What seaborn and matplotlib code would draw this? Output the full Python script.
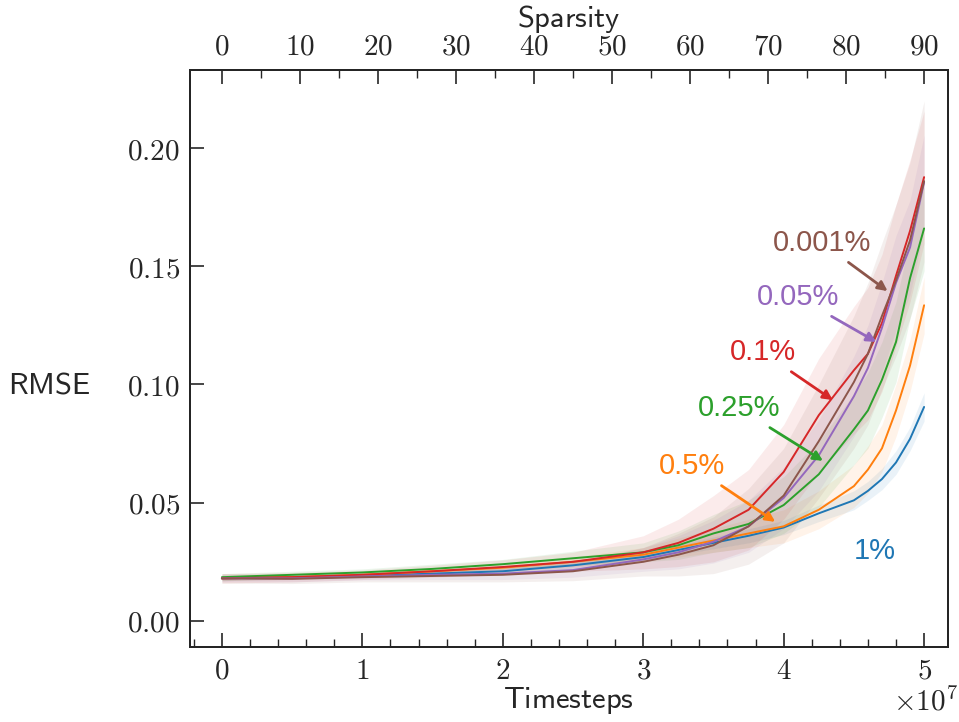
import numpy as np
import pandas as pd
import matplotlib
matplotlib.use("Agg")
import matplotlib.pyplot as plt
import seaborn as sns
from matplotlib.ticker import FuncFormatter, MultipleLocator

# ---------------- data ----------------
t_steps = [0.0, 0.5, 1.0, 1.5, 2.0, 2.5, 3.0, 3.25, 3.5, 3.75, 4.0, 4.25,
           4.5, 4.6, 4.7, 4.8, 4.9, 5.0]  # x 1e7 timesteps

labels = ["1%", "0.5%", "0.25%", "0.1%", "0.05%", "0.001%"]

rmse_1 = [0.0180, 0.0185, 0.0190, 0.0200, 0.0210, 0.0235, 0.0270, 0.0300, 0.0330,
          0.0360, 0.0395, 0.0455, 0.0510, 0.0550, 0.0600, 0.0670, 0.0770, 0.0905]
rmse_05 = [0.0180, 0.0185, 0.0195, 0.0210, 0.0225, 0.0250, 0.0280, 0.0310, 0.0340,
           0.0370, 0.0400, 0.0470, 0.0570, 0.0640, 0.0730, 0.0890, 0.1080, 0.1335]
rmse_025 = [0.0185, 0.0195, 0.0205, 0.0220, 0.0240, 0.0265, 0.0290, 0.0320, 0.0370,
            0.0410, 0.0490, 0.0620, 0.0810, 0.0890, 0.1020, 0.1180, 0.1450, 0.1660]
rmse_01 = [0.0180, 0.0185, 0.0195, 0.0210, 0.0228, 0.0250, 0.0290, 0.0330, 0.0390,
           0.0470, 0.0630, 0.0870, 0.1060, 0.1130, 0.1260, 0.1460, 0.1650, 0.1877]
rmse_005 = [0.0180, 0.0180, 0.0188, 0.0195, 0.0200, 0.0215, 0.0260, 0.0290, 0.0335,
            0.0400, 0.0520, 0.0700, 0.0950, 0.1070, 0.1240, 0.1430, 0.1580, 0.1855]
rmse_0001 = [0.0180, 0.0178, 0.0185, 0.0190, 0.0195, 0.0210, 0.0250, 0.0280, 0.0320,
             0.0400, 0.0530, 0.0760, 0.1010, 0.1130, 0.1290, 0.1440, 0.1610, 0.1860]

# half-width of the shaded spread
spread_1 = [0.001, 0.001, 0.001, 0.001, 0.0012, 0.0015, 0.002, 0.002, 0.0025, 0.003,
            0.003, 0.0035, 0.004, 0.004, 0.0045, 0.005, 0.005, 0.006]
spread_05 = [0.001, 0.001, 0.001, 0.0012, 0.0015, 0.002, 0.003, 0.004, 0.005, 0.006,
             0.007, 0.008, 0.009, 0.010, 0.010, 0.011, 0.011, 0.012]
spread_025 = [0.0015, 0.0015, 0.0015, 0.002, 0.002, 0.003, 0.004, 0.006, 0.008, 0.010,
              0.012, 0.014, 0.015, 0.016, 0.016, 0.017, 0.017, 0.018]
spread_01 = [0.002, 0.002, 0.002, 0.0025, 0.003, 0.004, 0.007, 0.010, 0.014, 0.017,
             0.020, 0.024, 0.027, 0.028, 0.029, 0.030, 0.030, 0.028]
spread_005 = [0.0015, 0.0015, 0.0015, 0.002, 0.0025, 0.003, 0.005, 0.007, 0.009, 0.011,
              0.013, 0.015, 0.017, 0.018, 0.019, 0.020, 0.020, 0.020]
spread_0001 = [0.002, 0.002, 0.002, 0.0025, 0.003, 0.004, 0.006, 0.009, 0.012, 0.016,
               0.020, 0.024, 0.028, 0.030, 0.031, 0.032, 0.033, 0.034]

colors = ["#1f77b4", "#ff7f0e", "#2ca02c", "#d62728", "#9467bd", "#8c564b"]

series = [rmse_1, rmse_05, rmse_025, rmse_01, rmse_005, rmse_0001]
spreads = [spread_1, spread_05, spread_025, spread_01, spread_005, spread_0001]

sparsity_ticks = [0, 10, 20, 30, 40, 50, 60, 70, 80, 90]
x_ticks = [0, 1, 2, 3, 4, 5]
y_ticks = [0.00, 0.05, 0.10, 0.15, 0.20]

# ---------------- build frame ----------------
rows = []
for lab, ys in zip(labels, series):
    for t, y in zip(t_steps, ys):
        rows.append({"Timesteps": t * 1e7, "RMSE": y, "run": lab})
df = pd.DataFrame(rows)

sns.set_style("ticks")
plt.rcParams["mathtext.fontset"] = "cm"
plt.rcParams["font.family"] = ["DejaVu Sans"]

fig = plt.figure(figsize=(9.59, 7.22), dpi=100)
ax = fig.add_axes([0.198, 0.104, 0.7905, 0.799])

for lab, ys, sp, c in zip(labels, series, spreads, colors):
    t = np.array(t_steps) * 1e7
    ys_a = np.array(ys)
    sp_a = np.array(sp)
    ax.fill_between(t, ys_a - sp_a, ys_a + sp_a, color=c, alpha=0.09, lw=0)

sns.lineplot(data=df, x="Timesteps", y="RMSE", hue="run", hue_order=labels,
             palette=colors, ax=ax, lw=1.4, legend=False)

xmin, xmax = -0.228e7, 5.17e7
ax.set_xlim(xmin, xmax)
ax.set_ylim(-0.011, 0.233)
ax.set_xticks([v * 1e7 for v in x_ticks])
ax.xaxis.set_minor_locator(MultipleLocator(0.2e7))
ax.set_yticks(y_ticks)
ax.xaxis.set_major_formatter(FuncFormatter(lambda v, p: r"$%g$" % (v / 1e7)))
ax.yaxis.set_major_formatter(FuncFormatter(lambda v, p: r"$%.2f$" % v))
ax.tick_params(axis="both", which="both", direction="in", labelsize=21,
               top=False, right=False, pad=7)
ax.tick_params(which="major", length=10, width=1.2)
ax.tick_params(which="minor", length=6, width=1.0)
for s in ax.spines.values():
    s.set_linewidth(1.4)
    s.set_color("black")
    s.set_visible(True)

ax.set_xlabel(r"$\mathsf{Timesteps}$", fontsize=22, labelpad=0)
ax.set_ylabel(r"$\mathsf{RMSE}$", fontsize=22, rotation=0, ha="center", va="center")
ax.yaxis.set_label_coords(-0.185, 0.454)
ax.text(0.97, -0.095, r"$\times10^{7}$", transform=ax.transAxes, fontsize=21,
        ha="center", va="center")

ax2 = ax.twiny()
ax2.set_xlim(xmin * 90 / 5e7, xmax * 90 / 5e7)
ax2.set_xticks(sparsity_ticks)
ax2.xaxis.set_minor_locator(MultipleLocator(5))
ax2.xaxis.set_major_formatter(FuncFormatter(lambda v, p: r"$%d$" % v))
ax2.tick_params(axis="x", which="both", direction="in", labelsize=21, pad=7)
ax2.tick_params(which="major", length=10, width=1.2)
ax2.tick_params(which="minor", length=6, width=1.0)
ax2.set_xlabel(r"$\mathsf{Sparsity}$", fontsize=22, labelpad=4)
for s in ax2.spines.values():
    s.set_linewidth(1.4)

# annotations
ann = [
    ("0.001%", colors[5], (4.27e7, 0.160), (4.74e7, 0.1395)),
    ("0.05%", colors[4], (4.10e7, 0.137), (4.66e7, 0.118)),
    ("0.1%", colors[3], (3.85e7, 0.1137), (4.35e7, 0.0934)),
    ("0.25%", colors[2], (3.68e7, 0.090), (4.28e7, 0.0677)),
    ("0.5%", colors[1], (3.35e7, 0.0655), (3.94e7, 0.0419)),
]
for txt, c, xyt, xy in ann:
    ax.annotate(txt, xy=xy, xytext=xyt, color=c, fontsize=21,
                family=["Liberation Sans", "DejaVu Sans"], ha="center", va="center",
                arrowprops=dict(arrowstyle="-|>", color=c, lw=2, shrinkA=3,
                                shrinkB=0, mutation_scale=14))
ax.text(4.65e7, 0.0296, "1%", color=colors[0], fontsize=21,
        family=["Liberation Sans", "DejaVu Sans"], ha="center", va="center")

fig.savefig("out.png", dpi=100)
